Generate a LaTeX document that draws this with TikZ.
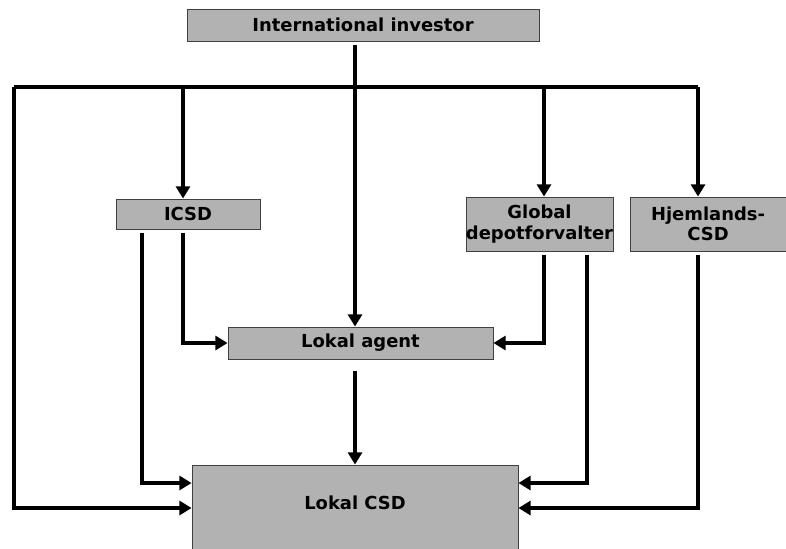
\documentclass[tikz,border=0pt]{standalone}
\usepackage{fontspec}
\setmainfont{DejaVu Sans}
\usetikzlibrary{calc, arrows.meta}

\tikzset{
  box/.style={draw=black!75, line width=0.5pt, fill=black!30, inner sep=0pt,
    align=center, font=\bfseries\fontsize{10.2}{11.5}\selectfont},
  link/.style={line width=2pt},
  arr/.style={link, -{Triangle[length=7pt,width=8pt]}}
}

\begin{document}
\begin{tikzpicture}[x=0.02cm,y=-0.02cm]
        \useasboundingbox (0,0) rectangle (786,548);

        % boxes
        \node[box, minimum width=7.04cm, minimum height=0.64cm] (inv) at (363,25) {International investor};
        \node[box, minimum width=2.88cm, minimum height=0.6cm] (icsd) at (188,214) {ICSD};
        \node[box, minimum width=2.94cm, minimum height=1.08cm] (glob) at (539.5,224) {Global\\depotforvalter};
        \node[box, minimum width=3.12cm, minimum height=1.08cm] (hjem) at (708,224) {Hjemlands-\\CSD};
        \node[box, minimum width=5.3cm, minimum height=0.64cm] (agent) at (360.5,343) {Lokal agent};
        \node[box, minimum width=6.52cm, minimum height=1.8cm] (lcsd) at (355,510) {};
        \node[font=\bfseries\fontsize{10.2}{11.5}\selectfont] (lcsdtxt) at (355,503) {Lokal CSD};

        % bus and ends
        \coordinate (trunk) at (355,45);
        \coordinate (busL) at (14,87);
        \coordinate (busR) at (698,87);
        \coordinate (dIcsd) at (183,87);
        \coordinate (dGlob) at (544,87);
        \coordinate (yA) at (0,483);
        \coordinate (yB) at (0,508);

        \coordinate (icsdOutA) at (142,233);
        \coordinate (icsdOutB) at (183,233);
        \coordinate (globOutA) at (544,255);
        \coordinate (globOutB) at (587,255);
        \coordinate (hjemOut) at (698,255);
        \coordinate (agentOut) at (355,371);

        \draw[link] (busL) -- (busR);
        \draw[arr] (trunk) -- (trunk |- agent.north);
        \draw[arr] (dIcsd) -- (dIcsd |- icsd.north);
        \draw[arr] (dGlob) -- (dGlob |- glob.north);
        \draw[arr] (busR) -- (busR |- hjem.north);
        \draw[arr] (busL) |- (lcsd.west |- yB);

        \draw[arr] (icsdOutA) |- (lcsd.west |- yA);
        \draw[arr] (icsdOutB) |- (agent.west);
        \draw[arr] (globOutA) |- (agent.east);
        \draw[arr] (globOutB) |- (lcsd.east |- yA);
        \draw[arr] (hjemOut) |- (lcsd.east |- yB);
        \draw[arr] (agentOut) -- (agentOut |- lcsd.north);
      \end{tikzpicture}
\end{document}
